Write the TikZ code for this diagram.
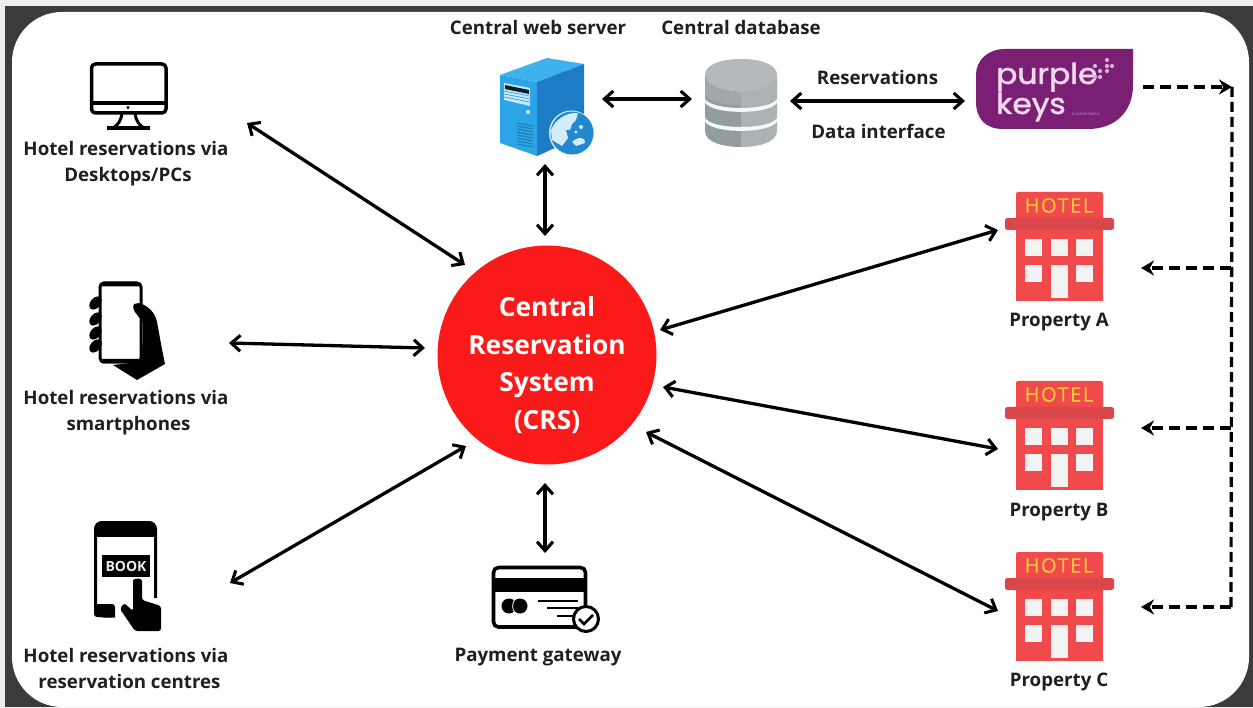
\documentclass[tikz,border=0pt]{standalone}
\usepackage{fontspec}
\setmainfont{Open Sans}
\newfontfamily\logofont[FakeBold=1.6]{Poppins}
\newfontfamily\hotelfont[FakeBold=0.5,LetterSpace=8]{Open Sans}
\usetikzlibrary{arrows.meta,calc}
\definecolor{frame}{HTML}{3B3B3D}
\definecolor{crsred}{HTML}{FB1A1A}
\definecolor{hotelred}{HTML}{F04A4C}
\definecolor{hotelband}{HTML}{D9474B}
\definecolor{hotelwin}{HTML}{F3F3F3}
\definecolor{hotelyel}{HTML}{FFC63A}
\definecolor{pk}{HTML}{7A1F74}
\definecolor{pkl}{HTML}{F0D8EE}
\definecolor{srvf}{HTML}{2BA4E8}
\definecolor{srvr}{HTML}{1E7CC6}
\definecolor{srvt}{HTML}{3DB2EF}
\definecolor{dbl}{HTML}{939C9E}
\definecolor{dbr}{HTML}{ABB2B4}
\definecolor{dbt}{HTML}{B5B9BC}
\tikzset{
  x=1pt,y=-1pt,
  lbl/.style={font=\bfseries\fontsize{18.7}{20}\selectfont,text=black!88,inner sep=0pt,align=center},
  link/.style={line width=3.3pt,draw=black,{Straight Barb[length=9pt,width=16pt,line width=3.1pt]}-{Straight Barb[length=9pt,width=16pt,line width=3.1pt]}},
  dlink/.style={line width=3.2pt,draw=black,dash pattern=on 11pt off 6pt,-{Stealth[length=13pt,width=15pt]}},
  dtrunk/.style={line width=3.2pt,draw=black,dash pattern=on 10pt off 5pt},
  ink/.style={draw=black,line width=3.5pt,line join=round},
}
\newcommand{\hotelicon}[1]{%
  \begin{scope}[yshift=-#1pt]
    \fill[hotelred,rounded corners=2pt] (1016,192) rectangle (1103,222);
    \fill[hotelred] (1016,222) rectangle (1103,301);
    \fill[hotelband,rounded corners=2.5pt] (1005,218) rectangle (1114,230);
    \foreach \wx in {1025,1051,1076}{\fill[hotelwin] (\wx,239) rectangle ++(17,17);}
    \foreach \wx in {1025,1076}{\fill[hotelwin] (\wx,265) rectangle ++(17,17);}
    \fill[hotelwin] (1051,265) rectangle (1068,298);
    \node[inner sep=0pt,text=hotelyel,font=\hotelfont\fontsize{20}{20}\selectfont] at (1059,205.5) {HOTEL};
  \end{scope}}
\begin{document}
\begin{tikzpicture}
\useasboundingbox (0,0) rectangle (1253,708);
% frame
\fill[white!93!black] (0,0) rectangle (1253,708);
\fill[frame] (5,6) rectangle (1253,707);
\fill[white,rounded corners=50pt] (12,12) rectangle (1249,707);

% CRS
\node[circle,fill=crsred,minimum size=219pt,inner sep=0pt] (crs) at (547,355) {};
\node[inner sep=0pt,text=white,font=\bfseries\fontsize{26.3}{37.5}\selectfont,align=center] (crstext) at (547,365) {Central\\Reservation\\System\\(CRS)};

% monitor
\begin{scope}
  \draw[ink,rounded corners=4pt] (91.5,64) rectangle (166,113);
  \draw[ink] (91.5,103) -- (166,103);
  \fill[black] (128,107.5) circle (1.6pt);
  \draw[black,line width=3pt] (122,113) .. controls (121,121) and (118,125) .. (113,128);
  \draw[black,line width=3pt] (135,113) .. controls (136,121) and (139,125) .. (144,128);
  \draw[black,line width=3.2pt] (107,128) -- (150,128);
\end{scope}
\coordinate (pc) at (247,123);
\node[lbl] (pct) at (126,163.5) {Hotel reservations via\\[6.5pt]\hspace*{4pt}Desktops/PCs};

% smartphone
\begin{scope}
  \fill[black] (138,303) .. controls (148,306) and (155,312) .. (157,322) .. controls (160,338) and (162,350) .. (165,364) -- (137,380) -- (113,365) -- (140,362) .. controls (143,350) and (143,335) .. (143,320) .. controls (141,312) and (130,310) .. (134,303) -- cycle;
  \fill[white,rounded corners=2pt] (101,284) rectangle (141,361);
  \draw[black,line width=3pt,rounded corners=4pt] (100,283) rectangle (141,362);
  \fill[black,rounded corners=3pt] (100,282) rectangle (141,286.5);
  \fill[black,rounded corners=3pt] (100,359) rectangle (141,363.5);
  \fill[black] (134,304) .. controls (139,301) and (148,306) .. (153,313) -- (146,330) .. controls (142,316) and (130,312) .. cycle;
  \foreach \fy in {303,319,333,346}{\fill[black,rotate around={50:(95.5,\fy)}] (95.5,\fy) ellipse (7.5pt and 5pt);}
\end{scope}
\node[lbl] (smt) at (126,413) {Hotel reservations via\\[6pt]\hspace*{5pt}smartphones};

% booking phone
\begin{scope}
  \draw[ink,line width=3pt,rounded corners=8pt] (115,616) -- (95.5,616) -- (95.5,522.5) -- (155.5,522.5) -- (155.5,598);
  \fill[black,rounded corners=8pt] (94,536) -- (94,521) -- (157,521) -- (157,536) -- cycle;
  \fill[black] (94,530) rectangle (157,537);
  \fill[black,rounded corners=3pt] (94,604) rectangle (115,617);
  \fill[black] (102,555) rectangle (150,577);
  \node[inner sep=0pt,text=white!92!black,font=\bfseries\fontsize{14}{14}\selectfont] (book) at (126,566) {BOOK};
  \fill[black,rounded corners=2.5pt] (133,583) .. controls (133,578) and (142,578) .. (142,583) -- (142,600) -- (161,606) -- (161,631) -- (135,631) -- (120,609) -- (124,603) -- (133,611) -- cycle;
\end{scope}
\node[lbl] (bkt) at (126,668.5) {Hotel reservations via\\[6pt]\hspace*{7pt}reservation centres};

% server
\begin{scope}
  \fill[srvt] (500,75) -- (547,58) -- (584,64) -- (537,82) -- cycle;
  \fill[srvf] (500,75) -- (537,82) -- (537,156) -- (500,143) -- cycle;
  \fill[srvr] (537,82) -- (584,64) -- (584,135) -- (537,156) -- cycle;
  \fill[white!75!srvf] (504,83) -- (530,88) -- (530,106) -- (504,100) -- cycle;
  \fill[black!75!srvr] (505,85) -- (529,90) -- (529,94) -- (505,89) -- cycle;
  \foreach \gy in {95,98,101}{\draw[srvf,line width=.7pt] (504,\gy-4) -- (530,\gy+1);}
  \fill[white!70!srvf] (528,112) circle (2.2pt);
  \foreach \gy in {123,126,129,132,135,138,141,144}{\draw[black!25!srvf,line width=1pt] (517,\gy) -- (533,\gy+3);}
  \fill[white!85!srvf] (571.5,133) circle (22.5pt);
  \fill[srvr!70!srvf] (572,133) circle (21.5pt);
  \fill[white!80!srvf] (551,130) .. controls (555,120) and (566,112) .. (578,113) -- (576,120) -- (572,124) -- (570,130) -- (566,130) -- (568,138) -- (562,146) -- (552,140) -- cycle;
  \fill[white!80!srvf] (572,142) .. controls (578,136) and (586,137) .. (585,143) -- (576,146) -- cycle;
  \fill[white!80!srvf] (581,127) circle (2pt);
  \fill[white!80!srvf] (576,132) circle (1.6pt);
\end{scope}
\coordinate (srv) at (545,164);
\node[lbl,anchor=base] (srvtx) at (538,34.5) {Central web server};

% database
\begin{scope}
  \fill[dbl] (705,75) -- (741,75) -- (741,147) .. controls (725,147) and (705,143) .. (705,131) -- cycle;
  \fill[dbr] (741,75) -- (777,75) -- (777,131) .. controls (777,143) and (757,147) .. (741,147) -- cycle;
  \fill[white!88!dbt] (705,99) .. controls (712,111) and (770,111) .. (777,99) -- (777,102.5) .. controls (770,115) and (712,115) .. (705,102.5) -- cycle;
  \fill[white!88!dbt] (705,118) .. controls (712,130) and (770,130) .. (777,118) -- (777,121.5) .. controls (770,134) and (712,134) .. (705,121.5) -- cycle;
  \fill[dbt] (741,59) .. controls (762,59) and (777,65) .. (777,75) .. controls (777,85) and (760,91) .. (741,92) .. controls (722,91) and (705,85) .. (705,75) .. controls (705,65) and (720,59) .. (741,59) -- cycle;
  \fill[dbl!60!dbt] (705,80) -- (705,95) .. controls (712,104) and (730,105) .. (741,105) -- (741,92) .. controls (725,91) and (710,87) .. (705,80) -- cycle;
  \fill[dbr] (777,80) -- (777,95) .. controls (770,104) and (752,105) .. (741,105) -- (741,92) .. controls (757,91) and (772,87) .. (777,80) -- cycle;
\end{scope}
\node[lbl,anchor=base] (dbtx) at (741,34.5) {Central database};

% purple keys
\begin{scope}
  \fill[pk] (1133,49) -- (1133,85) .. controls (1133,112) and (1115,129) .. (1088,129) -- (1003,129) .. controls (985,129) and (976,118) .. (976,102) -- (976,75) .. controls (976,60) and (988,49) .. (1005,49) -- cycle;
  \node[inner sep=0pt,text=pkl,font=\logofont\fontsize{29}{18.5}\selectfont,align=left,xscale=1.08,anchor=west] (pkname) at (996,92) {purple\\keys};
  \foreach \dx/\dy in {1107/60,1095/66,1107/66,1112/66,1100/71,1107/71,1100/77,1095/77}{\fill[pkl!80!pk] (\dx,\dy) circle (2.1pt);}
  \node[inner sep=0pt,text=pkl!70!pk,font=\fontsize{3.5}{4}\selectfont] (pktag) at (1086,114.5) {IT LEAVES SIMPLY};
\end{scope}
\node[lbl] (resl) at (877.5,77) {Reservations};
\node[lbl] (dil) at (878.5,131) {Data interface};

% hotels
\hotelicon{0}
\hotelicon{189}
\hotelicon{360}
\node[lbl] (pa) at (1059,322) {Property A};
\node[lbl] (pb) at (1059,512) {Property B};
\node[lbl] (pc2) at (1059,682) {Property C};

% card
\begin{scope}
  \draw[black,line width=3.6pt,rounded corners=5pt] (493.5,567.5) rectangle (585.5,627);
  \fill[black] (492,578) rectangle (587,592);
  \fill[black] (509,606) circle (7.5pt);
  \fill[black] (520,606) circle (7.5pt);
  \draw[white,line width=.8pt] (514.5,600) .. controls (512,604) and (512,608) .. (514.5,612);
  \draw[black,line width=2.8pt] (538,601) -- (578,601);
  \draw[black,line width=2.8pt] (547,608) -- (586,608);
  \draw[black,line width=2.8pt] (557,616) -- (575,616);
  \draw[black,fill=white,line width=3pt] (586,619) circle (12.5pt);
  \draw[black,line width=2.6pt] (579,619) -- (584,624) -- (593,615);
\end{scope}
\node[lbl] (pay) at (538,657) {Payment gateway};

% connector endpoints
\coordinate (crsa) at (465,265);
\coordinate (smr) at (229,343);
\coordinate (crsb) at (425,348);
\coordinate (bkr) at (230,583);
\coordinate (crsc) at (466,446);
\coordinate (crsd) at (545,236);
\coordinate (crse) at (545,483);
\coordinate (cardt) at (545,553);
\coordinate (crsf) at (660,330);
\coordinate (hotela) at (998,230);
\coordinate (crsg) at (663,387);
\coordinate (hotelb) at (998,449);
\coordinate (crsh) at (646,432);
\coordinate (hotelc) at (998,611);
\coordinate (srvr2) at (602,99);
\coordinate (dbl2) at (692,99);
\coordinate (dbr2) at (790,101);
\coordinate (pkl2) at (965,101);
\coordinate (pkout) at (1143,87);
\coordinate (tt) at (1232,87);
\coordinate (tA) at (1231,268);
\coordinate (tB) at (1231,428);
\coordinate (tC) at (1231,607);
\coordinate (inA) at (1141,268);
\coordinate (inB) at (1141,428);
\coordinate (inC) at (1141,607);

\draw[link] (pc) -- (crsa);
\draw[link] (smr) -- (crsb);
\draw[link] (bkr) -- (crsc);
\draw[link] (srv) -- (crsd);
\draw[link] (crse) -- (cardt);
\draw[link] (crsf) -- (hotela);
\draw[link] (crsg) -- (hotelb);
\draw[link] (crsh) -- (hotelc);
\draw[link] (srvr2) -- (dbl2);
\draw[link] (dbr2) -- (pkl2);
\draw[dlink] (pkout) -- (tt);
\draw[dtrunk] (tt) -- (tC);
\draw[dlink] (tA) -- (inA);
\draw[dlink] (tB) -- (inB);
\draw[dlink] (tC) -- (inC);
\end{tikzpicture}
\end{document}
